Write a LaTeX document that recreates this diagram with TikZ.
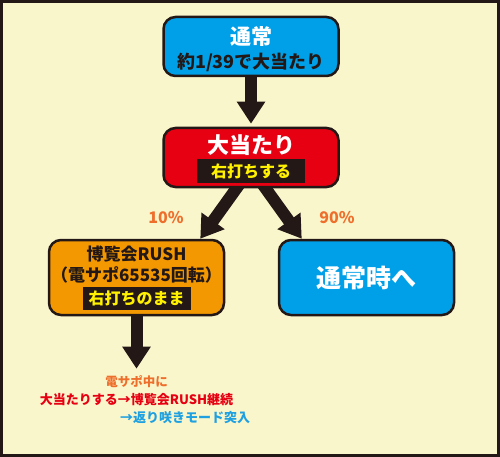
\documentclass[tikz,border=0pt]{standalone}
\usepackage{fontspec}
\setmainfont{Noto Sans CJK JP}
\usetikzlibrary{arrows.meta}
\usetikzlibrary{calc}
\usetikzlibrary{positioning}

\definecolor{bgyellow}{RGB}{250,246,204}
\definecolor{ink}{RGB}{35,24,21}
\definecolor{boxblue}{RGB}{0,160,233}
\definecolor{boxred}{RGB}{230,0,18}
\definecolor{boxorange}{RGB}{243,152,0}
\definecolor{labelyellow}{RGB}{255,241,0}
\definecolor{pctorange}{RGB}{238,110,44}
\definecolor{noteblue}{RGB}{30,160,225}

\pgfdeclarelayer{bg}
\pgfdeclarelayer{arrows}
\pgfsetlayers{bg,arrows,main}

\newcommand{\fsz}[1]{\bfseries\fontsize{#1}{#1}\selectfont}

\begin{document}
\begin{tikzpicture}[x=1pt, y=-1pt,
    box/.style={draw=ink, line width=2.5pt, rounded corners=12pt,
                minimum width=175pt, inner sep=0pt},
    txt/.style={inner sep=0pt},
    tag/.style={fill=ink, text=labelyellow, inner sep=0pt,
                minimum width=108pt, minimum height=23pt},
    bigarrow/.style={draw=ink, line width=12pt,
                     -{Triangle[length=22pt,width=27pt]}}]
    \useasboundingbox (0,0) rectangle (500,457);

    % Frame
    \begin{pgfonlayer}{bg}
        \draw[ink, line width=3pt, fill=bgyellow] (1.5,1.5) rectangle (498.5,455.5);
    \end{pgfonlayer}

    % Normal state
    \node[box, fill=boxblue, minimum height=59pt] (normal) at (251,46.5) {};
    \node[txt, text=white, font=\fsz{21}] (normaltitle) at ($(normal.center)+(0,-9.5)$) {通常};
    \node[txt, text=ink, font=\fsz{18}] (normalrate) at ($(normal.center)+(0,15.5)$) {約1/39で大当たり};

    % Big hit
    \node[box, fill=boxred, minimum height=59pt] (bonus) at (251,157.5) {};
    \node[txt, text=white, font=\fsz{22}] (bonustitle) at ($(bonus.center)+(0,-12.5)$) {大当たり};
    \node[tag, minimum height=24pt, font=\fsz{16}] (bonustag) at ($(bonus.center)+(0,13.5)$) {右打ちする};

    % RUSH
    \node[box, fill=boxorange, minimum height=75pt] (rush) at (136.5,277.5) {};
    \node[txt, text=ink, font=\fsz{17}] (rushtitle) at ($(rush.center)+(0,-23.5)$) {博覧会RUSH};
    \node[txt, text=ink, font=\fsz{17}] (rushspins) at ($(rush.center)+(0,-2.5)$) {（電サポ65535回転）};
    \node[tag, font=\fsz{16}] (rushtag) at ($(rush.center)+(0,21)$) {右打ちのまま};

    % Back to normal
    \node[box, fill=boxblue, minimum height=75pt] (tonormal) at (366.5,277.5) {};
    \node[txt, text=white, font=\fsz{25}] (tonormaltitle) at (tonormal.center) {通常時へ};

    % Percentages
    \node[txt, text=pctorange, font=\fsz{16}] (pctrush) at (166,218) {10\%};
    \node[txt, text=pctorange, font=\fsz{16}] (pctnormal) at (337,218) {90\%};

    % Notes under RUSH
    \node[txt, text=pctorange, font=\fsz{12.5}] (note) at (136.5,382) {電サポ中に};
    \node[txt, text=boxred, font=\fsz{13}] (notehit) at (136.5,400) {大当たりする→博覧会RUSH継続};
    \node[txt, text=noteblue, font=\fsz{13}] (notemode) at (185,418) {→返り咲きモード突入};

    % Arrows
    \begin{pgfonlayer}{arrows}
        \draw[bigarrow, shorten >=3pt] (normal.south) -- (bonus.north);
        \draw[bigarrow] ($(bonus.south)+(-7.3,-10)$) -- ($(rush.north east)+(-25,0)$);
        \draw[bigarrow] ($(bonus.south)+(7.3,-10)$) -- ($(tonormal.north west)+(24,0)$);
        \draw[bigarrow, shorten >=7pt] (rush.south) -- (note.north);
    \end{pgfonlayer}
\end{tikzpicture}
\end{document}
